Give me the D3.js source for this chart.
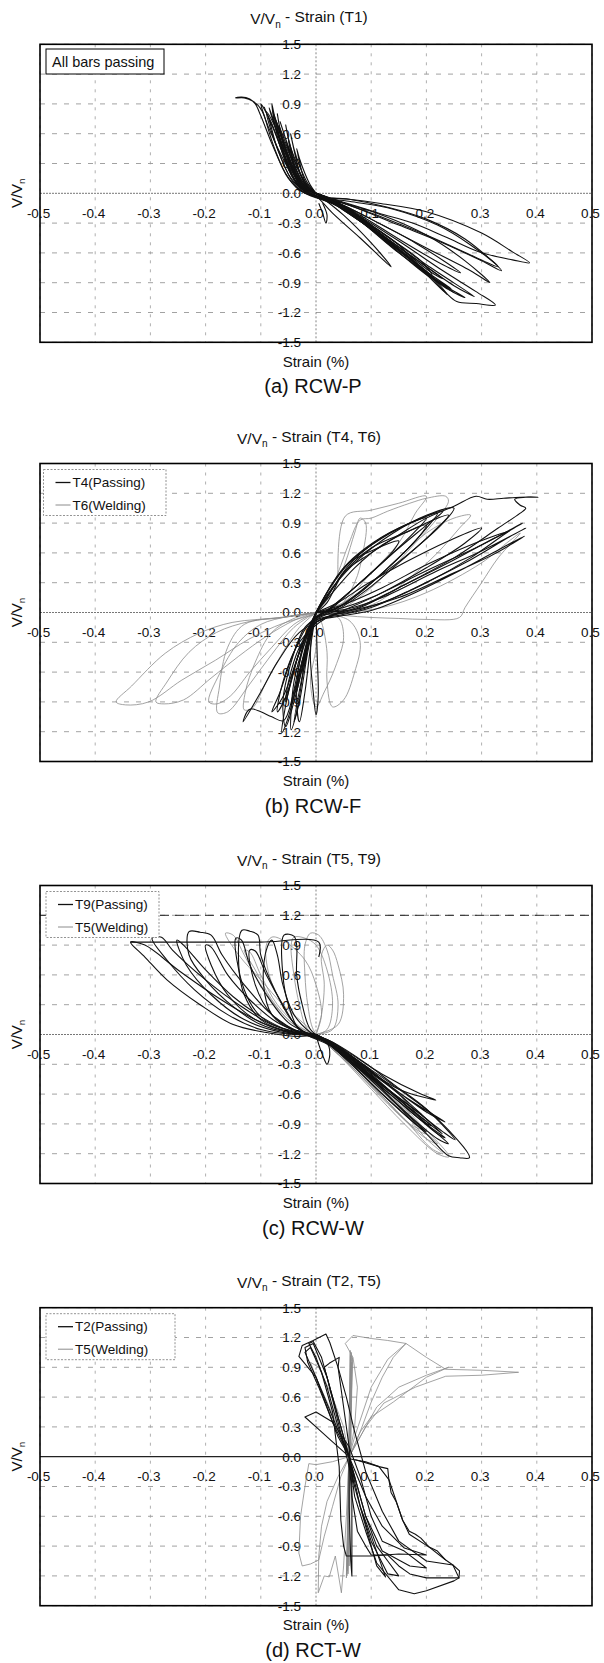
<!DOCTYPE html>
<html>
<head>
<meta charset="utf-8">
<script src="https://cdn.jsdelivr.net/npm/d3@7"></script>
<style>
  body { margin: 0; background: #fff; }
  svg { display: block; font-family: "Liberation Sans", Arial, sans-serif; }
</style>
</head>
<body>
<script>
// axis ticks
const strainTicks = [-0.5, -0.4, -0.3, -0.2, -0.1, 0, 0.1, 0.2, 0.3, 0.4, 0.5];
const ratioTicks = [-1.5, -1.2, -0.9, -0.6, -0.3, 0, 0.3, 0.6, 0.9, 1.2, 1.5];

// panel texts
const panelTitles = ["(T1)", "(T4, T6)", "(T5, T9)", "(T2, T5)"];
const panelCaptions = ["(a) RCW-P", "(b) RCW-F", "(c) RCW-W", "(d) RCT-W"];
const legendLabels = [
    ["All bars passing"],
    ["T4(Passing)", "T6(Welding)"],
    ["T9(Passing)", "T5(Welding)"],
    ["T2(Passing)", "T5(Welding)"]
];
const limitLineC = [1.2];

// measured loops, [strain %, V/Vn], one array per cycle
const t1Passing = [
    [[0,0],[-0.01,0.08],[-0.02,0.2],[-0.03,0.35],[-0.035,0.45],[-0.03,0.32],[-0.022,0.15],[-0.01,0.03],[0.01,-0.04],[0.04,-0.13],[0.07,-0.24],[0.1,-0.36],[0.085,-0.3],[0.05,-0.17],[0.02,-0.06],[0,0]],
    [[0,0],[-0.015,0.1],[-0.03,0.28],[-0.04,0.45],[-0.046,0.6],[-0.04,0.44],[-0.03,0.22],[-0.015,0.05],[0.005,-0.05],[0.03,-0.2],[0.08,-0.45],[0.136,-0.74],[0.1,-0.5],[0.05,-0.22],[0.01,-0.04],[0,0]],
    [[0,0],[-0.02,0.1],[-0.035,0.3],[-0.048,0.5],[-0.055,0.69],[-0.05,0.55],[-0.04,0.3],[-0.025,0.1],[-0.005,-0.02],[0.03,-0.1],[0.08,-0.28],[0.13,-0.48],[0.18,-0.7],[0.15,-0.52],[0.1,-0.32],[0.05,-0.14],[0.01,-0.03],[0,0]],
    [[0,0],[-0.02,0.12],[-0.04,0.33],[-0.055,0.55],[-0.065,0.72],[-0.058,0.6],[-0.045,0.35],[-0.03,0.12],[-0.01,0],[0.03,-0.1],[0.1,-0.36],[0.16,-0.6],[0.21,-0.82],[0.19,-0.68],[0.12,-0.4],[0.06,-0.16],[0.02,-0.04],[0,0]],
    [[0,0],[-0.025,0.12],[-0.045,0.35],[-0.06,0.55],[-0.073,0.74],[-0.065,0.6],[-0.05,0.36],[-0.033,0.12],[-0.012,0],[0.03,-0.08],[0.1,-0.35],[0.17,-0.66],[0.238,-1.02],[0.21,-0.84],[0.14,-0.52],[0.07,-0.2],[0.02,-0.05],[0,0]],
    [[0,0],[-0.025,0.1],[-0.05,0.35],[-0.07,0.6],[-0.085,0.86],[-0.076,0.72],[-0.06,0.42],[-0.04,0.15],[-0.015,0],[0.04,-0.1],[0.1,-0.26],[0.18,-0.5],[0.262,-0.8],[0.23,-0.72],[0.15,-0.46],[0.08,-0.22],[0.02,-0.05],[0,0]],
    [[0,0],[-0.03,0.1],[-0.055,0.35],[-0.075,0.62],[-0.094,0.87],[-0.085,0.74],[-0.07,0.45],[-0.045,0.15],[-0.015,0],[0.04,-0.12],[0.12,-0.4],[0.2,-0.72],[0.287,-1.04],[0.25,-0.93],[0.17,-0.62],[0.09,-0.3],[0.03,-0.07],[0,0]],
    [[0,0],[-0.03,0.12],[-0.055,0.4],[-0.07,0.65],[-0.08,0.9],[-0.075,0.7],[-0.062,0.42],[-0.04,0.14],[-0.012,0],[0.04,-0.1],[0.12,-0.42],[0.2,-0.8],[0.25,-1.0],[0.225,-0.9],[0.15,-0.6],[0.08,-0.28],[0.02,-0.05],[0,0]],
    [[0,0],[-0.035,0.1],[-0.06,0.4],[-0.08,0.7],[-0.1,0.9],[-0.092,0.75],[-0.075,0.45],[-0.05,0.15],[-0.02,0],[0.04,-0.12],[0.12,-0.45],[0.2,-0.8],[0.235,-1.0],[0.255,-1.09],[0.29,-1.11],[0.325,-1.125],[0.29,-0.99],[0.23,-0.78],[0.15,-0.48],[0.07,-0.2],[0.02,-0.05],[0,0]],
    [[0,0],[-0.03,0.08],[-0.06,0.35],[-0.085,0.65],[-0.1,0.85],[-0.115,0.93],[-0.13,0.96],[-0.146,0.96],[-0.135,0.97],[-0.12,0.95],[-0.11,0.9],[-0.1,0.78],[-0.08,0.5],[-0.055,0.2],[-0.03,0.03],[0,-0.03],[0.05,-0.1],[0.12,-0.22],[0.2,-0.42],[0.27,-0.68],[0.315,-0.9],[0.28,-0.78],[0.2,-0.55],[0.12,-0.32],[0.05,-0.12],[0,0]],
    [[0,0],[-0.03,0.1],[-0.055,0.4],[-0.075,0.68],[-0.09,0.82],[-0.083,0.66],[-0.065,0.38],[-0.04,0.1],[-0.01,-0.02],[0.06,-0.06],[0.13,-0.14],[0.2,-0.26],[0.27,-0.46],[0.336,-0.78],[0.3,-0.68],[0.23,-0.5],[0.15,-0.32],[0.07,-0.14],[0.02,-0.04],[0,0]],
    [[0,0],[-0.025,0.1],[-0.05,0.38],[-0.065,0.6],[-0.072,0.72],[-0.066,0.55],[-0.05,0.28],[-0.03,0.06],[0,-0.03],[0.06,-0.06],[0.114,-0.1],[0.2,-0.185],[0.3,-0.4],[0.356,-0.59],[0.387,-0.7],[0.356,-0.67],[0.296,-0.59],[0.235,-0.44],[0.175,-0.3],[0.114,-0.2],[0.05,-0.09],[0,0]],
    [[0,0],[-0.02,0.1],[-0.04,0.35],[-0.05,0.55],[-0.045,0.4],[-0.03,0.12],[-0.005,-0.02],[0.06,-0.08],[0.14,-0.16],[0.22,-0.32],[0.28,-0.52],[0.33,-0.74],[0.28,-0.62],[0.2,-0.42],[0.12,-0.24],[0.05,-0.1],[0,0]],
    [[0,0],[-0.028,0.1],[-0.05,0.38],[-0.064,0.62],[-0.07,0.8],[-0.064,0.62],[-0.05,0.35],[-0.03,0.1],[-0.01,-0.01],[0.05,-0.15],[0.12,-0.45],[0.19,-0.75],[0.245,-0.96],[0.22,-0.88],[0.15,-0.58],[0.08,-0.26],[0.02,-0.05],[0,0]],
    [[0,0],[-0.03,0.12],[-0.052,0.4],[-0.068,0.66],[-0.078,0.82],[-0.07,0.64],[-0.056,0.38],[-0.035,0.1],[-0.01,-0.01],[0.05,-0.16],[0.13,-0.5],[0.2,-0.82],[0.27,-1.05],[0.24,-0.97],[0.16,-0.64],[0.08,-0.28],[0.02,-0.05],[0,0]],
    [[0,0],[-0.02,0.08],[-0.04,0.3],[-0.058,0.55],[-0.067,0.68],[-0.06,0.5],[-0.045,0.25],[-0.025,0.05],[0,-0.02],[0.05,-0.14],[0.11,-0.38],[0.17,-0.62],[0.23,-0.86],[0.21,-0.8],[0.14,-0.5],[0.07,-0.22],[0.02,-0.05],[0,0]],
    [[0.005,-0.1],[0.012,-0.2],[0.018,-0.3],[0.02,-0.22],[0.012,-0.1]]
];

const t4Passing = [
    [[0,0],[0.01,0.1],[0.03,0.3],[0.06,0.5],[0.1,0.62],[0.15,0.72],[0.14,0.62],[0.1,0.4],[0.06,0.2],[0.03,0.05],[0,-0.05],[-0.01,-0.2],[-0.02,-0.4],[-0.025,-0.6],[-0.02,-0.45],[-0.01,-0.2],[0,0]],
    [[0,0],[0.02,0.15],[0.05,0.4],[0.1,0.65],[0.16,0.8],[0.2,0.88],[0.18,0.72],[0.13,0.45],[0.08,0.2],[0.04,0.05],[0,-0.05],[-0.015,-0.3],[-0.03,-0.6],[-0.035,-0.8],[-0.025,-0.55],[-0.01,-0.25],[0,0]],
    [[0,0],[0.02,0.2],[0.06,0.5],[0.12,0.75],[0.18,0.92],[0.22,1.0],[0.2,0.85],[0.15,0.55],[0.1,0.3],[0.05,0.08],[0,-0.05],[-0.02,-0.3],[-0.035,-0.65],[-0.045,-0.95],[-0.035,-0.75],[-0.02,-0.4],[0,0]],
    [[0,0],[0.05,0.05],[0.1,0.15],[0.2,0.42],[0.3,0.68],[0.374,0.9],[0.35,0.82],[0.28,0.55],[0.2,0.3],[0.12,0.1],[0.06,0],[0,-0.05],[-0.02,-0.3],[-0.04,-0.7],[-0.045,-1.18],[-0.035,-1.0],[-0.02,-0.5],[0,0]],
    [[0,0],[0.06,0.04],[0.12,0.15],[0.22,0.42],[0.3,0.62],[0.38,0.85],[0.35,0.76],[0.27,0.5],[0.18,0.25],[0.1,0.05],[0.04,-0.03],[0,-0.08],[-0.03,-0.4],[-0.05,-0.8],[-0.062,-1.21],[-0.05,-1.05],[-0.03,-0.6],[-0.01,-0.15],[0,0]],
    [[0,0],[0.07,0.03],[0.15,0.15],[0.25,0.4],[0.32,0.58],[0.378,0.77],[0.34,0.66],[0.26,0.42],[0.16,0.15],[0.1,0.02],[0.04,-0.04],[0,-0.1],[-0.01,-0.4],[-0.005,-0.8],[0,-1.03],[0.004,-0.85],[0.002,-0.4],[0,0]],
    [[0,0],[0.02,0.1],[0.05,0.4],[0.1,0.6],[0.15,0.78],[0.2,0.95],[0.25,1.07],[0.29,1.17],[0.31,1.14],[0.34,1.15],[0.37,1.16],[0.402,1.16],[0.38,1.16],[0.36,1.14],[0.37,1.08],[0.38,1.05],[0.37,1.0],[0.33,0.85],[0.25,0.55],[0.15,0.25],[0.08,0.05],[0.02,-0.05],[-0.03,-0.2],[-0.07,-0.5],[-0.1,-0.8],[-0.132,-1.1],[-0.125,-1.0],[-0.118,-0.97],[-0.1,-1.0],[-0.08,-1.05],[-0.059,-1.09],[-0.04,-0.8],[-0.02,-0.4],[0,0]],
    [[0,0],[0.03,0.25],[0.08,0.55],[0.14,0.8],[0.2,0.98],[0.25,1.05],[0.23,0.9],[0.17,0.6],[0.1,0.3],[0.04,0.05],[-0.01,-0.1],[-0.04,-0.4],[-0.065,-0.8],[-0.08,-1.0],[-0.06,-0.85],[-0.03,-0.4],[0,0]],
    [[0,0],[0.03,0.2],[0.07,0.45],[0.12,0.68],[0.18,0.85],[0.24,0.98],[0.21,0.8],[0.15,0.5],[0.09,0.22],[0.04,0.03],[-0.005,-0.1],[-0.02,-0.5],[-0.04,-1.1],[-0.03,-0.9],[-0.015,-0.4],[0,0]],
    [[0,0],[0.04,0.1],[0.09,0.28],[0.16,0.5],[0.24,0.72],[0.3,0.85],[0.27,0.7],[0.2,0.45],[0.12,0.2],[0.05,0.02],[0,-0.1],[-0.03,-0.35],[-0.05,-0.7],[-0.055,-0.9],[-0.045,-0.7],[-0.025,-0.3],[0,0]],
    [[0,0],[0.02,0.2],[0.05,0.45],[0.09,0.65],[0.15,0.85],[0.2,0.95],[0.18,0.82],[0.13,0.55],[0.07,0.25],[0.02,0.02],[-0.02,-0.15],[-0.045,-0.5],[-0.06,-0.9],[-0.055,-1.15],[-0.04,-0.9],[-0.02,-0.45],[0,0]],
    [[0,0],[0.025,0.2],[0.06,0.48],[0.11,0.72],[0.17,0.9],[0.23,1.02],[0.2,0.88],[0.14,0.6],[0.08,0.3],[0.03,0.06],[-0.01,-0.12],[-0.03,-0.5],[-0.035,-0.9],[-0.03,-1.1],[-0.02,-0.8],[-0.01,-0.35],[0,0]],
    [[0,0],[0.05,0.08],[0.12,0.25],[0.2,0.48],[0.28,0.68],[0.35,0.82],[0.32,0.74],[0.24,0.5],[0.15,0.25],[0.08,0.06],[0.02,-0.05],[-0.03,-0.3],[-0.06,-0.7],[-0.07,-1.0],[-0.055,-0.85],[-0.03,-0.4],[0,0]]
];

const t6Welding = [
    [[0,0],[-0.06,-0.05],[-0.152,-0.1],[-0.212,-0.21],[-0.273,-0.41],[-0.334,-0.74],[-0.362,-0.9],[-0.345,-0.93],[-0.303,-0.9],[-0.243,-0.68],[-0.182,-0.48],[-0.122,-0.27],[-0.06,-0.11],[0,-0.02]],
    [[0,0],[-0.05,-0.04],[-0.12,-0.09],[-0.18,-0.2],[-0.23,-0.4],[-0.27,-0.7],[-0.29,-0.9],[-0.275,-0.92],[-0.24,-0.88],[-0.19,-0.66],[-0.14,-0.44],[-0.09,-0.24],[-0.04,-0.08],[0,0]],
    [[0,0],[-0.05,-0.04],[-0.1,-0.12],[-0.14,-0.3],[-0.175,-0.62],[-0.194,-0.9],[-0.18,-0.92],[-0.155,-0.84],[-0.12,-0.6],[-0.08,-0.35],[-0.04,-0.12],[0,0]],
    [[0,0],[-0.04,-0.06],[-0.08,-0.2],[-0.11,-0.5],[-0.128,-0.8],[-0.13,-0.98],[-0.115,-0.96],[-0.09,-0.7],[-0.06,-0.4],[-0.03,-0.15],[0,0]],
    [[0,0],[-0.06,-0.05],[-0.13,-0.12],[-0.16,-0.35],[-0.175,-0.75],[-0.178,-1.01],[-0.16,-1.0],[-0.12,-0.72],[-0.08,-0.42],[-0.04,-0.15],[0,0]],
    [[0,0],[0.02,0.15],[0.04,0.4],[0.06,0.7],[0.08,0.93],[0.1,0.95],[0.13,1.02],[0.17,1.1],[0.2,1.15],[0.235,1.17],[0.24,1.12],[0.22,0.95],[0.18,0.7],[0.12,0.35],[0.06,0.08],[0.02,-0.02],[0,0]],
    [[0,0],[0.03,0.2],[0.053,0.5],[0.07,0.8],[0.08,0.95],[0.09,0.9],[0.085,0.6],[0.07,0.3],[0.04,0.05],[0,0]],
    [[0,0],[0.05,0.1],[0.1,0.3],[0.15,0.55],[0.2,0.8],[0.25,0.95],[0.28,0.98],[0.26,0.85],[0.22,0.6],[0.17,0.35],[0.11,0.1],[0.05,0],[0,0]],
    [[0,0],[0.05,-0.03],[0.1,-0.05],[0.15,-0.06],[0.2,-0.07],[0.26,-0.05],[0.27,0.05],[0.3,0.3],[0.33,0.55],[0.37,0.8],[0.35,0.72],[0.3,0.5],[0.2,0.2],[0.12,0.05],[0.05,0],[0,0]],
    [[0,0],[0.06,-0.08],[0.08,-0.3],[0.07,-0.6],[0.05,-0.88],[0.03,-0.95],[0.02,-0.7],[0.02,-0.4],[0.01,-0.1],[0,0]],
    [[0,0],[0.04,-0.05],[0.05,-0.25],[0.035,-0.55],[0.015,-0.8],[0,-0.95],[-0.01,-0.7],[0,-0.35],[0,0]],
    [[0.04,0.3],[0.053,0.97],[0.1,1.03],[0.15,1.1],[0.2,1.17],[0.18,1.0],[0.15,0.7],[0.1,0.4],[0.05,0.1],[0,0]]
];

const t9Passing = [
    [[-0.336,0.93],[-0.2,0.93],[-0.1,0.93],[0.005,0.93],[0.005,0.78]],
    [[0,0],[-0.03,-0.02],[-0.09,0.02],[-0.15,0.1],[-0.21,0.3],[-0.27,0.55],[-0.31,0.78],[-0.336,0.93],[-0.31,0.9],[-0.25,0.65],[-0.18,0.38],[-0.11,0.15],[-0.05,0.02],[0.02,-0.05],[0.08,-0.28],[0.15,-0.55],[0.22,-0.85],[0.278,-1.24],[0.26,-1.24],[0.24,-1.22],[0.2,-1.0],[0.13,-0.65],[0.06,-0.28],[0.02,-0.08],[0,0]],
    [[0,0],[-0.04,0],[-0.1,0.05],[-0.16,0.2],[-0.22,0.45],[-0.27,0.75],[-0.297,0.97],[-0.28,0.98],[-0.26,0.85],[-0.2,0.55],[-0.14,0.3],[-0.08,0.1],[-0.03,0.02],[0.02,-0.05],[0.08,-0.25],[0.14,-0.5],[0.2,-0.75],[0.252,-1.06],[0.23,-0.98],[0.17,-0.72],[0.1,-0.42],[0.04,-0.15],[0,0]],
    [[0,0],[-0.05,0.02],[-0.1,0.1],[-0.15,0.28],[-0.2,0.55],[-0.23,0.8],[-0.23,1.035],[-0.21,1.03],[-0.19,1.0],[-0.17,0.8],[-0.13,0.5],[-0.08,0.2],[-0.03,0.02],[0.03,-0.1],[0.1,-0.38],[0.17,-0.66],[0.234,-0.88],[0.2,-0.78],[0.13,-0.5],[0.06,-0.2],[0,0]],
    [[0,0],[-0.05,0.03],[-0.1,0.15],[-0.13,0.4],[-0.14,0.7],[-0.134,1.05],[-0.12,1.04],[-0.105,1.0],[-0.1,0.8],[-0.075,0.45],[-0.045,0.15],[-0.015,0],[0.03,-0.1],[0.1,-0.4],[0.17,-0.75],[0.22,-1.0],[0.24,-1.1],[0.22,-1.05],[0.15,-0.72],[0.08,-0.36],[0.02,-0.08],[0,0]],
    [[0,0],[-0.03,0.05],[-0.05,0.3],[-0.06,0.6],[-0.058,1.0],[-0.04,0.99],[-0.035,0.9],[-0.035,0.6],[-0.025,0.3],[-0.01,0.05],[0.02,-0.08],[0.08,-0.3],[0.15,-0.55],[0.217,-0.66],[0.19,-0.6],[0.12,-0.4],[0.05,-0.15],[0,0]],
    [[0,0],[-0.06,0.02],[-0.13,0.15],[-0.19,0.4],[-0.235,0.7],[-0.252,0.95],[-0.24,0.9],[-0.2,0.65],[-0.15,0.38],[-0.1,0.18],[-0.05,0.04],[0,-0.03],[0.06,-0.2],[0.13,-0.5],[0.2,-0.85],[0.229,-1.0],[0.21,-0.92],[0.15,-0.65],[0.08,-0.32],[0.02,-0.06],[0,0]],
    [[0,0],[-0.05,0.04],[-0.1,0.18],[-0.13,0.45],[-0.145,0.97],[-0.135,0.95],[-0.12,0.7],[-0.09,0.4],[-0.05,0.12],[-0.01,0],[0.03,-0.12],[0.09,-0.35],[0.15,-0.6],[0.2,-0.9],[0.234,-1.04],[0.22,-1.0],[0.16,-0.72],[0.09,-0.4],[0.03,-0.1],[0,0]],
    [[0,0],[-0.04,0.05],[-0.08,0.2],[-0.11,0.5],[-0.12,0.85],[-0.11,0.84],[-0.09,0.6],[-0.06,0.3],[-0.03,0.05],[0.02,-0.08],[0.08,-0.35],[0.14,-0.6],[0.19,-0.8],[0.17,-0.72],[0.1,-0.42],[0.04,-0.12],[0,0]],
    [[0,0],[-0.05,0.03],[-0.11,0.15],[-0.16,0.4],[-0.19,0.7],[-0.2,0.9],[-0.19,0.88],[-0.16,0.6],[-0.12,0.35],[-0.07,0.12],[-0.02,0],[0.04,-0.15],[0.1,-0.42],[0.16,-0.7],[0.21,-0.92],[0.19,-0.86],[0.13,-0.58],[0.06,-0.25],[0,0]],
    [[0,0],[-0.04,0.04],[-0.08,0.2],[-0.095,0.5],[-0.09,0.85],[-0.08,0.95],[-0.07,0.8],[-0.06,0.5],[-0.04,0.2],[-0.01,0.02],[0.04,-0.14],[0.1,-0.44],[0.16,-0.78],[0.2,-0.98],[0.18,-0.9],[0.12,-0.6],[0.05,-0.22],[0,0]],
    [[0,0],[0.005,-0.1],[0.015,-0.25],[0.02,-0.3],[0.025,-0.2],[0.02,-0.08],[0,0]]
];

const t5WeldingC = [
    [[0,0],[0.03,0.05],[0.04,0.3],[0.03,0.6],[0.02,0.85],[0.005,1.0],[-0.01,1.02],[-0.02,0.9],[-0.02,0.6],[-0.015,0.3],[-0.005,0.05],[0.01,-0.05],[0.06,-0.25],[0.12,-0.5],[0.18,-0.85],[0.241,-1.23],[0.22,-1.2],[0.16,-0.9],[0.1,-0.55],[0.04,-0.2],[0,0]],
    [[0,0],[0.02,0.05],[0.03,0.3],[0.02,0.65],[0,0.9],[-0.02,0.97],[-0.04,0.98],[-0.045,0.9],[-0.04,0.6],[-0.03,0.3],[-0.015,0.05],[0.02,-0.08],[0.08,-0.35],[0.14,-0.65],[0.2,-1.0],[0.18,-0.95],[0.12,-0.62],[0.06,-0.3],[0,0]],
    [[0,0],[0.01,0.2],[0,0.5],[-0.02,0.75],[-0.06,0.95],[-0.08,0.98],[-0.09,0.9],[-0.085,0.6],[-0.06,0.3],[-0.03,0.05],[0.01,-0.05],[0.07,-0.3],[0.13,-0.6],[0.19,-0.95],[0.17,-0.9],[0.1,-0.5],[0.04,-0.15],[0,0]],
    [[0,0],[-0.02,0.1],[-0.06,0.3],[-0.1,0.55],[-0.14,0.8],[-0.164,1.02],[-0.15,1.0],[-0.13,0.8],[-0.1,0.5],[-0.06,0.2],[-0.02,0.02],[0.03,-0.12],[0.1,-0.45],[0.16,-0.8],[0.22,-1.1],[0.2,-1.05],[0.13,-0.7],[0.06,-0.3],[0,0]],
    [[0,0],[0.04,0.1],[0.05,0.4],[0.04,0.7],[0.03,0.85],[0.02,0.9],[0.01,0.8],[0.015,0.5],[0.01,0.2],[0,0]],
    [[0,0],[-0.04,0.1],[-0.08,0.35],[-0.11,0.65],[-0.13,0.85],[-0.12,0.83],[-0.1,0.6],[-0.07,0.3],[-0.03,0.08],[0.02,-0.06],[0.07,-0.28],[0.12,-0.55],[0.17,-0.8],[0.15,-0.74],[0.09,-0.42],[0.03,-0.1],[0,0]],
    [[0,0],[0.05,-0.2],[0.1,-0.45],[0.15,-0.72],[0.2,-1.05],[0.23,-1.2],[0.21,-1.15],[0.16,-0.85],[0.1,-0.52],[0.05,-0.25],[0,0]]
];

const t2Passing = [
    [[0.06,0],[0.04,0.3],[0.02,0.7],[0,1.0],[-0.013,1.14],[-0.005,1.16],[0.01,1.0],[0.03,0.6],[0.05,0.2],[0.07,-0.2],[0.09,-0.6],[0.11,-0.9],[0.13,-1.05],[0.15,-1.2],[0.13,-1.18],[0.1,-0.85],[0.08,-0.5],[0.06,0]],
    [[0.06,0],[0.03,0.4],[0,0.8],[-0.031,1.01],[-0.025,1.12],[-0.005,1.17],[0.018,1.235],[0.025,1.15],[0.04,0.9],[0.055,0.6],[0.07,0.25],[0.09,-0.15],[0.12,-0.55],[0.15,-0.85],[0.2,-1.05],[0.248,-1.09],[0.259,-1.22],[0.25,-1.25],[0.2,-1.35],[0.178,-1.38],[0.15,-1.34],[0.11,-1.07],[0.09,-0.75],[0.07,-0.4],[0.06,0]],
    [[0.06,-0.02],[0.09,-0.05],[0.114,-0.1],[0.13,-0.12],[0.132,-0.23],[0.136,-0.36],[0.145,-0.45],[0.157,-0.64],[0.169,-0.75],[0.18,-0.78],[0.19,-0.82],[0.205,-0.91],[0.22,-0.95],[0.235,-1.04],[0.248,-1.09],[0.26,-1.15],[0.259,-1.22],[0.24,-1.22],[0.2,-1.22],[0.17,-1.18],[0.15,-1.1],[0.13,-0.99],[0.1,-0.99],[0.09,-0.9],[0.075,-0.75],[0.065,-0.4],[0.06,-0.02]],
    [[0.06,0],[0.045,0.3],[0.03,0.6],[0.015,0.9],[0.024,0.94],[0.042,1.0],[0.04,0.9],[0.05,0.5],[0.06,0.1],[0.065,-0.3],[0.065,-0.8],[0.065,-1.2],[0.063,-1.05],[0.06,-0.5],[0.06,0]],
    [[0.06,0],[0.04,0.2],[0.02,0.5],[0,0.8],[-0.02,1.05],[-0.01,1.1],[0.01,0.85],[0.03,0.45],[0.042,-0.1],[0.045,-0.64],[0.05,-0.9],[0.055,-1.0],[0.1,-1.0],[0.15,-0.98],[0.2,-0.99],[0.16,-0.92],[0.12,-0.7],[0.09,-0.4],[0.06,0]],
    [[0.06,0],[0.03,0.15],[0,0.3],[-0.02,0.4],[0,0.45],[0.03,0.35],[0.06,0.1],[0.08,-0.2],[0.1,-0.6],[0.12,-0.85],[0.16,-0.95],[0.2,-1.12],[0.17,-1.1],[0.12,-0.95],[0.09,-0.6],[0.06,0]],
    [[0.06,0],[0.03,0.35],[0.005,0.7],[-0.015,0.95],[-0.02,1.1],[-0.005,1.14],[0.02,0.8],[0.04,0.35],[0.06,-0.1],[0.08,-0.5],[0.1,-0.8],[0.126,-1.21],[0.11,-1.1],[0.09,-0.7],[0.07,-0.3],[0.06,0]],
    [[0.071,-0.03],[0.114,-0.1],[0.132,-0.23],[0.157,-0.64],[0.169,-0.78],[0.205,-0.91],[0.235,-1.04]]
];

const t5WeldingD = [
    [[0.06,0],[0.062,1.07],[0.056,-1.2],[0.064,1.05],[0.058,-1.18],[0.066,1.0],[0.055,-1.22],[0.063,1.02],[0.057,-1.15],[0.065,0.95],[0.06,-1.1],[0.061,0.5],[0.06,0]],
    [[0.06,0],[0.07,0.2],[0.085,0.45],[0.1,0.7],[0.13,0.98],[0.163,1.14],[0.2,1.0],[0.235,0.88],[0.3,0.87],[0.367,0.85],[0.3,0.82],[0.235,0.81],[0.18,0.7],[0.123,0.54],[0.09,0.3],[0.07,0.1],[0.06,0]],
    [[0.06,0],[0.07,0.3],[0.075,0.7],[0.067,1.0],[0.053,1.14],[0.067,1.22],[0.1,1.19],[0.13,1.17],[0.163,1.14],[0.14,1.0],[0.12,0.8],[0.1,0.55],[0.08,0.25],[0.065,0.05]],
    [[0.06,0],[0.03,-0.05],[0,-0.08],[-0.013,-0.07],[-0.02,-0.3],[-0.028,-0.6],[-0.031,-0.97],[-0.025,-1.1],[-0.01,-1.08],[0.005,-1.04],[0.015,-0.8],[0.03,-0.5],[0.045,-0.2],[0.06,0]],
    [[0.06,0],[0.04,-0.2],[0.02,-0.45],[0.01,-0.7],[0.005,-1.0],[0.004,-1.37],[0.015,-1.2],[0.024,-1.21],[0.035,-1.0],[0.046,-1.37],[0.05,-1.1],[0.055,-0.6],[0.06,0]],
    [[0.06,0],[0.04,0.3],[0.02,0.55],[0,0.8],[-0.01,0.95],[0.005,0.9],[0.03,0.6],[0.05,0.3],[0.06,0]],
    [[0.06,0],[0.08,0.25],[0.1,0.4],[0.14,0.55],[0.2,0.8],[0.24,0.9],[0.2,0.82],[0.15,0.7],[0.11,0.5],[0.08,0.2],[0.06,0]]
];

const panelSeries = [
    [{ cycles: t1Passing, kind: "passing" }],
    [{ cycles: t6Welding, kind: "welding" }, { cycles: t4Passing, kind: "passing" }],
    [{ cycles: t5WeldingC, kind: "welding" }, { cycles: t9Passing, kind: "passing" }],
    [{ cycles: t5WeldingD, kind: "welding" }, { cycles: t2Passing, kind: "passing" }]
];

// layout
const width = 604, height = 1663;
const plotLeft = 40, plotRight = 592, halfH = 149;
const zeroY = [193.3, 612.5, 1034.5, 1456.7];
const font = '"Liberation Sans", Arial, sans-serif';
const lineStyle = {
    passing: { stroke: "#111", width: 1.1 },
    welding: { stroke: "#8c8c8c", width: 0.8 }
};
const fmt = v => v.toFixed(1);

const svg = d3.select("body").append("svg")
    .attr("width", width)
    .attr("height", height);

const x = d3.scaleLinear().domain([-0.5, 0.5]).range([plotLeft, plotRight]);

const addVn = (sel, base, rest) => {
    sel.append("tspan").text(base);
    sel.append("tspan").attr("font-size", "0.65em").attr("dy", "0.35em").text("n");
    sel.append("tspan").attr("dy", "-0.35em").text(rest);
};

panelTitles.forEach((title, i) => {
    const z = zeroY[i];
    const y = d3.scaleLinear().domain([-1.5, 1.5]).range([z + halfH, z - halfH]);
    const g = svg.append("g");

    g.append("clipPath").attr("id", "clip" + i)
        .append("rect")
        .attr("x", plotLeft).attr("y", y(1.5))
        .attr("width", plotRight - plotLeft).attr("height", y(-1.5) - y(1.5));

    // gridlines
    g.append("g").selectAll("line")
        .data(ratioTicks.filter(v => v !== 0))
        .join("line")
        .attr("x1", plotLeft).attr("x2", plotRight)
        .attr("y1", d => y(d)).attr("y2", d => y(d))
        .attr("stroke", "#8a8a8a").attr("stroke-width", 0.8)
        .attr("stroke-dasharray", "5,7");
    g.append("g").selectAll("line")
        .data(strainTicks.filter(v => v !== 0))
        .join("line")
        .attr("x1", d => x(d)).attr("x2", d => x(d))
        .attr("y1", y(1.5)).attr("y2", y(-1.5))
        .attr("stroke", "#9a9a9a").attr("stroke-width", 0.8)
        .attr("stroke-dasharray", "3,6");

    // zero lines
    g.append("line")
        .attr("x1", x(0)).attr("x2", x(0))
        .attr("y1", y(1.5)).attr("y2", y(-1.5))
        .attr("stroke", "#777").attr("stroke-width", 0.9)
        .attr("stroke-dasharray", "2,2");
    g.append("line")
        .attr("x1", plotLeft).attr("x2", plotRight)
        .attr("y1", y(0)).attr("y2", y(0))
        .attr("stroke", i === 3 ? "#222" : "#777")
        .attr("stroke-width", i === 3 ? 1.3 : 1)
        .attr("stroke-dasharray", i === 3 ? null : "2,1");

    if (i === 2) {
        g.append("g").selectAll("line")
            .data(limitLineC)
            .join("line")
            .attr("x1", plotLeft).attr("x2", plotRight)
            .attr("y1", d => y(d)).attr("y2", d => y(d))
            .attr("stroke", "#222").attr("stroke-width", 1)
            .attr("stroke-dasharray", "9,6");
    }

    // tick labels through d3 axes
    const yAxis = g.append("g")
        .attr("transform", `translate(${x(0)},0)`)
        .call(d3.axisLeft(y).tickValues(ratioTicks).tickFormat(fmt).tickSize(0).tickPadding(15));
    const xAxis = g.append("g")
        .attr("transform", `translate(0,${y(0)})`)
        .call(d3.axisBottom(x).tickValues(strainTicks).tickFormat(fmt).tickSize(0).tickPadding(15));
    [yAxis, xAxis].forEach(a => {
        a.select(".domain").remove();
        a.selectAll("text")
            .attr("font-family", font)
            .attr("font-size", 13.5)
            .attr("fill", "#111");
    });
    xAxis.selectAll("text").attr("dx", -2);

    // hysteresis loops
    const line = d3.line()
        .x(d => x(d[0]))
        .y(d => y(d[1]))
        .curve(i === 3 ? d3.curveLinear : d3.curveCatmullRom.alpha(0.5));
    const dataG = g.append("g").attr("clip-path", `url(#clip${i})`);
    panelSeries[i].forEach(s => {
        dataG.append("g").selectAll("path")
            .data(s.cycles)
            .join("path")
            .attr("d", line)
            .attr("fill", "none")
            .attr("stroke", lineStyle[s.kind].stroke)
            .attr("stroke-width", lineStyle[s.kind].width)
            .attr("stroke-linejoin", "round");
    });

    // border
    g.append("rect")
        .attr("x", plotLeft).attr("y", y(1.5))
        .attr("width", plotRight - plotLeft).attr("height", y(-1.5) - y(1.5))
        .attr("fill", "none").attr("stroke", "#000").attr("stroke-width", 1.6);

    // titles
    const t = g.append("text")
        .attr("x", 309).attr("y", z - 169)
        .attr("text-anchor", "middle")
        .attr("font-family", font).attr("font-size", 15.5).attr("fill", "#111");
    addVn(t, "V/V", " - Strain " + title);

    g.append("text")
        .attr("x", 316).attr("y", z + 173.5)
        .attr("text-anchor", "middle")
        .attr("font-family", font).attr("font-size", 15).attr("fill", "#111")
        .text("Strain (%)");

    const yl = g.append("text")
        .attr("transform", `translate(22,${z}) rotate(-90)`)
        .attr("text-anchor", "middle")
        .attr("font-family", font).attr("font-size", 15).attr("fill", "#111");
    addVn(yl, "V/V", "");

    g.append("text")
        .attr("x", 313).attr("y", z + 200)
        .attr("text-anchor", "middle")
        .attr("font-family", font).attr("font-size", 20).attr("fill", "#111")
        .text(panelCaptions[i]);

    // legend
    const labels = legendLabels[i];
    if (labels.length === 1) {
        g.append("rect")
            .attr("x", 46).attr("y", z - 144.3).attr("width", 118).attr("height", 25)
            .attr("fill", "#fff").attr("stroke", "#000").attr("stroke-width", 1);
        g.append("text")
            .attr("x", 52).attr("y", z - 126.8)
            .attr("font-family", font).attr("font-size", 14.5).attr("fill", "#111")
            .text(labels[0]);
    } else {
        const boxW = [0, 122.5, 113, 129][i];
        const lg = g.append("g").attr("transform", `translate(${i === 1 ? 43.5 : 46},${z - 143})`);
        lg.append("rect")
            .attr("width", boxW).attr("height", 46)
            .attr("fill", "#fff").attr("stroke", "#777").attr("stroke-width", 0.8)
            .attr("stroke-dasharray", "2,1.5");
        const kinds = ["passing", "welding"];
        const item = lg.selectAll("g.item")
            .data(labels)
            .join("g")
            .attr("class", "item")
            .attr("transform", (d, k) => `translate(0,${13 + k * 22.5})`);
        item.append("line")
            .attr("x1", 12).attr("x2", 27).attr("y1", 0).attr("y2", 0)
            .attr("stroke", (d, k) => lineStyle[kinds[k]].stroke)
            .attr("stroke-width", (d, k) => k === 0 ? 1.3 : 1);
        item.append("text")
            .attr("x", 29).attr("dy", "0.35em")
            .attr("font-family", font).attr("font-size", 13.5).attr("fill", "#111")
            .text(d => d);
    }
});
</script>
</body>
</html>
